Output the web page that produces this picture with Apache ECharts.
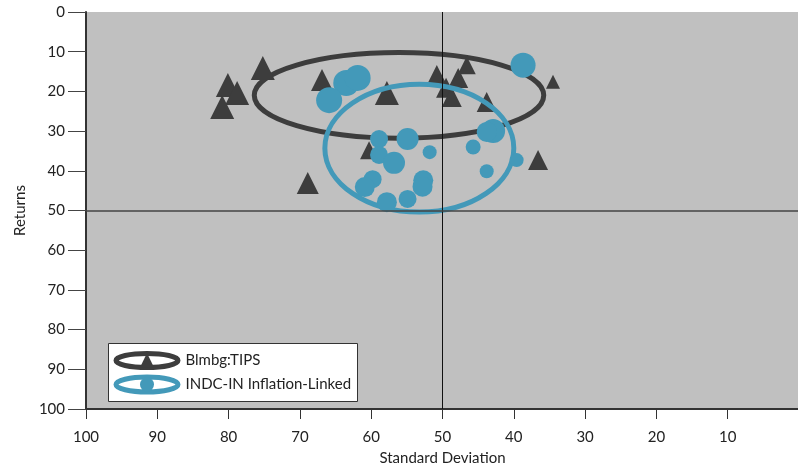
<!DOCTYPE html>
<html>
<head>
<meta charset="utf-8">
<script src="https://cdn.jsdelivr.net/npm/echarts@6/dist/echarts.min.js"></script>
<style>
  html, body { margin: 0; padding: 0; background: #fff; }
  #chart { width: 798px; height: 468px; }
</style>
</head>
<body>
<div id="chart"></div>
<script>
// axis ticks (both axes run 0..100, step 10)
const axisMin = 0;
const axisMax = 100;
const axisStep = 10;
const crossX = 50;
const crossY = 50;

// Blmbg:TIPS  (std dev, return, marker weight)
const tipsX = [75.2, 80.1, 78.8, 80.9, 66.9, 57.8, 50.8, 49.5, 48.7, 47.8, 46.6, 43.8, 34.5, 68.9, 60.3, 36.6];
const tipsY = [14.1, 18.4, 20.4, 23.9, 17.1, 20.4, 15.9, 19.1, 21.4, 16.6, 13.4, 22.7, 17.6, 43.1, 34.8, 37.3];
const tipsW = [24, 24, 24, 24, 22, 24, 20, 20, 20, 20, 18, 20, 14, 22, 18, 20];

// INDC-IN Inflation-Linked
const indcX = [38.7, 63.5, 61.9, 65.9, 58.9, 54.9, 51.8, 58.9, 56.8, 59.8, 60.9, 57.8, 54.9, 52.7, 52.8, 42.9, 43.8, 45.7, 39.6, 43.8];
const indcY = [13.4, 17.9, 16.6, 22.2, 32.0, 32.0, 35.3, 36.0, 38.0, 42.1, 44.1, 47.9, 47.1, 42.4, 44.0, 30.0, 30.2, 34.0, 37.3, 40.1];
const indcW = [25, 26, 26, 26, 18, 22, 14, 18, 22, 18, 20, 20, 18, 20, 20, 24, 20, 15, 14, 14];

// ellipses: centre x, centre y, half width, half height (data units)
const tipsEllipse = [56.1, 21.0, 20.3, 10.8];
const indcEllipse = [53.25, 34.3, 13.25, 16.1];

const tipsColor = '#3d3d3d';
const indcColor = '#4399b9';
const font = 'Lato, "DejaVu Sans", sans-serif';

const myChart = echarts.init(document.getElementById('chart'));

function zip(xs, ys, ws) {
  return xs.map((x, i) => [x, ys[i], ws[i]]);
}

function ellipseItem(params, api) {
  const c = api.coord([api.value(0), api.value(1)]);
  const s = api.size([api.value(2), api.value(3)], [api.value(0), api.value(1)]);
  return {
    type: 'ellipse',
    shape: { cx: c[0], cy: c[1], rx: Math.abs(s[0]), ry: Math.abs(s[1]) },
    style: { fill: 'none', stroke: api.visual('color'), lineWidth: 5 }
  };
}

const option = {
  animation: false,
  textStyle: { fontFamily: font },
  grid: {
    left: 86, top: 12, width: 713, height: 397,
    outerBoundsMode: 'none',
    containLabel: false,
    show: true, backgroundColor: '#c0c0c0', borderWidth: 0
  },
  xAxis: {
    type: 'value',
    inverse: true,
    min: axisMin, max: axisMax, interval: axisStep,
    name: 'Standard Deviation',
    nameLocation: 'middle',
    nameGap: 42,
    nameTextStyle: { fontSize: 15, color: '#222', fontFamily: font },
    axisLine: { show: true, onZero: false, lineStyle: { color: '#333', width: 2 } },
    axisTick: { show: true, length: 10, lineStyle: { color: '#333' } },
    axisLabel: {
      margin: 21, fontSize: 15, color: '#222', fontFamily: font,
      formatter: v => (v === 0 ? '' : v)
    },
    splitLine: { show: false }
  },
  yAxis: {
    type: 'value',
    inverse: true,
    min: axisMin, max: axisMax, interval: axisStep,
    name: 'Returns',
    nameLocation: 'middle',
    nameGap: 57,
    nameTextStyle: { fontSize: 15, color: '#222', fontFamily: font },
    axisLine: { show: true, onZero: false, lineStyle: { color: '#333', width: 2 } },
    axisTick: { show: true, length: 18, lineStyle: { color: '#444' } },
    axisLabel: { margin: 21, fontSize: 15, color: '#222', fontFamily: font },
    splitLine: { show: false }
  },
  series: [
    {
      name: 'Blmbg:TIPS ellipse',
      type: 'custom',
      z: 1,
      silent: true,
      color: tipsColor,
      encode: { x: 0, y: 1 },
      renderItem: ellipseItem,
      data: [tipsEllipse]
    },
    {
      name: 'Blmbg:TIPS',
      type: 'scatter',
      z: 2,
      symbol: 'triangle',
      symbolSize: v => v[2],
      itemStyle: { color: tipsColor, opacity: 1 },
      data: zip(tipsX, tipsY, tipsW)
    },
    {
      name: 'INDC-IN ellipse',
      type: 'custom',
      z: 3,
      silent: true,
      color: indcColor,
      encode: { x: 0, y: 1 },
      renderItem: ellipseItem,
      data: [indcEllipse]
    },
    {
      name: 'INDC-IN Inflation-Linked',
      type: 'scatter',
      z: 4,
      symbol: 'circle',
      symbolSize: v => v[2],
      itemStyle: { color: indcColor, opacity: 1 },
      data: zip(indcX, indcY, indcW)
    },
    {
      name: 'cross',
      type: 'scatter',
      z: 5,
      data: [],
      markLine: {
        silent: true,
        symbol: ['none', 'none'],
        label: { show: false },
        animation: false,
        data: [
          { xAxis: crossX, lineStyle: { color: '#111', width: 1, type: 'solid' } },
          { yAxis: crossY, lineStyle: { color: '#444', width: 1.5, type: 'solid' } }
        ]
      }
    }
  ],
  graphic: [
    {
      type: 'group',
      left: 108, top: 343,
      z: 100,
      children: [
        { type: 'rect', shape: { x: 0, y: 0, width: 249, height: 58 },
          style: { fill: '#fff', stroke: '#333', lineWidth: 1 } },
        { type: 'ellipse', shape: { cx: 38.5, cy: 17, rx: 31, ry: 7 },
          style: { fill: 'none', stroke: tipsColor, lineWidth: 5 } },
        { type: 'polygon', shape: { points: [[38.5, 9.5], [45.5, 24], [31.5, 24]] },
          style: { fill: tipsColor } },
        { type: 'text', x: 77, y: 17,
          style: { text: 'Blmbg:TIPS', fill: '#222', font: '15px ' + font, verticalAlign: 'middle' } },
        { type: 'ellipse', shape: { cx: 38.5, cy: 41, rx: 31, ry: 7.5 },
          style: { fill: 'none', stroke: indcColor, lineWidth: 5 } },
        { type: 'circle', shape: { cx: 38.5, cy: 41, r: 7 },
          style: { fill: indcColor } },
        { type: 'text', x: 77, y: 41,
          style: { text: 'INDC-IN Inflation-Linked', fill: '#222', font: '15px ' + font, verticalAlign: 'middle' } }
      ]
    }
  ]
};

myChart.setOption(option);
</script>
</body>
</html>
